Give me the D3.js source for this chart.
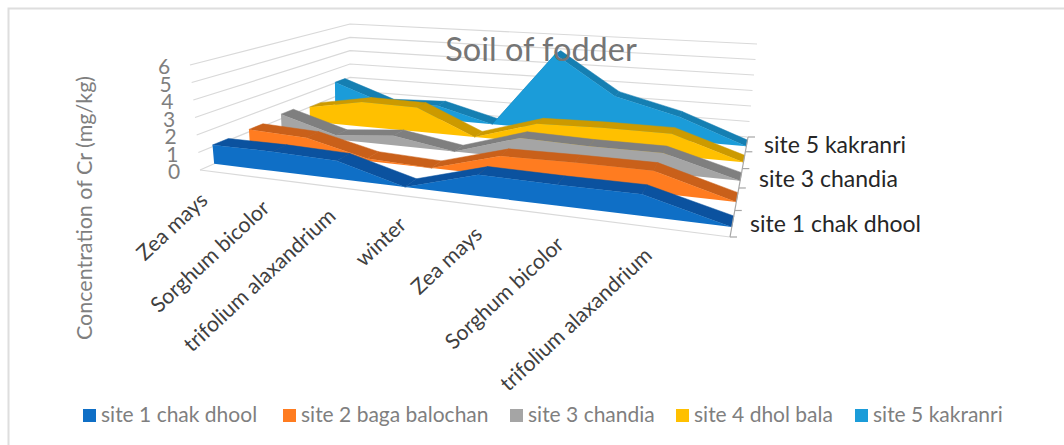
<!DOCTYPE html>
<html><head><meta charset="utf-8">
<script src="https://cdn.jsdelivr.net/npm/d3@7"></script>
<style>html,body{margin:0;padding:0;background:#fff}svg{display:block;font-family:Lato,"Open Sans",sans-serif}</style>
</head><body><svg id="c" width="1064" height="445"></svg>
<script>
const categories=["Zea mays","Sorghum bicolor","trifolium alaxandrium","winter","Zea mays","Sorghum bicolor","trifolium alaxandrium",""];
const yTicks=[0,1,2,3,4,5,6];
const depthLabels=["site 1 chak dhool","site 3 chandia","site 5 kakranri"];
const seriesNames=["site 1 chak dhool","site 2 baga balochan","site 3 chandia","site 4 dhol bala","site 5 kakranri"];
const site1=[1.1,1.1,1.0,0,1.1,1.05,1.05,0];
const site2=[1.15,1.0,0.15,0,1.1,1.15,1.15,0];
const site3=[1.3,0.27,0.6,0,1.2,1.1,1.1,0];
const site4=[1.0,1.65,1.6,0,1.2,1.3,1.3,0];
const site5=[2.05,0.8,0.95,0,5.0,2.5,1.5,0];
const allSeries=[site1,site2,site3,site4,site5];
const faceColors=["#0f6fc6","#ff7c20","#a5a5a5","#ffc000","#1b9cd9"];
const topColors=["#0b529f","#c9601a","#7f7f7f","#cc9a00","#157fb2"];

const svg=d3.select("#c");
svg.append("path").attr("fill","none").attr("stroke","#dedede").attr("stroke-width",2).attr("d","M8.5,445V8.5H1064");

function homography(p0,p1,p2,p3){
  const sx=p0[0]-p1[0]+p2[0]-p3[0],sy=p0[1]-p1[1]+p2[1]-p3[1];
  const dx1=p1[0]-p2[0],dx2=p3[0]-p2[0],dy1=p1[1]-p2[1],dy2=p3[1]-p2[1];
  const den=dx1*dy2-dx2*dy1;
  const g=(sx*dy2-dx2*sy)/den,h=(dx1*sy-sx*dy1)/den;
  const a=p1[0]-p0[0]+g*p1[0],b=p3[0]-p0[0]+h*p3[0],c=p0[0];
  const d=p1[1]-p0[1]+g*p1[1],e=p3[1]-p0[1]+h*p3[1],f=p0[1];
  return (u,v)=>{const w=g*u+h*v+1;return [(a*u+b*v+c)/w,(d*u+e*v+f)/w];};
}
const floor=homography([200,170],[730,237],[748,137],[350,104]);
const ceil=homography([190,65],[742,106],[757,44],[350,24]);
const xScale=d3.scaleLinear().domain([0,categories.length-1]).range([0,1]);
const zScale=d3.scaleLinear().domain([0,5]).range([0,1]);
const yScale=d3.scaleLinear().domain([0,6]).range([0,1]);
function P(i,z,val){
  const u=xScale(i),v=zScale(z),t=yScale(val);
  const a=floor(u,v),b=ceil(u,v);
  return [a[0]+(b[0]-a[0])*t,a[1]+(b[1]-a[1])*t];
}
const line=d3.line();
const last=categories.length-1;
const grid=svg.append("g").attr("fill","none").attr("stroke","#d9d9d9").attr("stroke-width",1.2);
yTicks.forEach(t=>{
  grid.append("path").attr("d",line([P(0,0,t),P(0,5,t),P(last,5,t)]));
});
grid.append("path").attr("d",line([P(0,0,0),P(last,0,0)]));

const bandStart=0.36,bandWidth=0.42;
d3.range(allSeries.length).reverse().forEach(s=>{
  const vals=allSeries[s];
  const g=svg.append("g");
  const zf=s+bandStart,zb=s+bandStart+bandWidth;
  for(let i=0;i<last;i++){
    g.append("path").attr("fill",topColors[s]).attr("stroke",topColors[s]).attr("stroke-width",.5)
     .attr("d",line([P(i,zf,vals[i]),P(i+1,zf,vals[i+1]),P(i+1,zb,vals[i+1]),P(i,zb,vals[i])])+"Z");
  }
  const top=vals.map((v,i)=>P(i,zf,v));
  const bottom=vals.map((v,i)=>P(i,zf,0)).reverse();
  g.append("path").attr("fill",faceColors[s]).attr("d",line(top.concat(bottom))+"Z");
});

svg.append("path").attr("fill","none").attr("stroke","#a6a6a6").attr("stroke-width",1.2)
  .attr("d",line([P(last,0,0),P(last,5,0)]));
d3.range(6).forEach(z=>{
  const p=P(last,z,0);
  svg.append("path").attr("stroke","#a6a6a6").attr("stroke-width",1.2).attr("d",line([p,[p[0]+7,p[1]]]));
});
[[750,232],[759,187],[764,153]].forEach((p,i)=>{
  svg.append("text").attr("x",p[0]).attr("y",p[1]).attr("font-size",23).attr("fill","#262626").text(depthLabels[i]);
});

yTicks.forEach(t=>{
  const p=P(0,0,t);
  svg.append("text").attr("x",p[0]-26).attr("y",p[1]+9).attr("text-anchor","middle").attr("font-size",21).attr("fill","#7f7f7f").text(t);
});
categories.forEach((c,i)=>{
  if(!c)return;
  const p=P(i,0,0);
  svg.append("text").attr("transform",`translate(${p[0]+9+i*1.4},${p[1]+32}) rotate(-43)`).attr("text-anchor","end")
     .attr("font-size",21.3).attr("fill","#404040").text(c);
});
svg.append("text").attr("transform","translate(92,208) rotate(-90)").attr("text-anchor","middle").attr("font-size",21.5).attr("fill","#7f7f7f").text("Concentration of Cr (mg/kg)");
svg.append("text").attr("x",541).attr("y",61).attr("text-anchor","middle").attr("font-size",32.5).attr("fill","#757575").text("Soil of fodder");
const legendX=[83,283,510,676,855];
seriesNames.forEach((n,i)=>{
  svg.append("rect").attr("x",legendX[i]).attr("y",409).attr("width",13).attr("height",13).attr("fill",faceColors[i]);
  svg.append("text").attr("x",legendX[i]+18).attr("y",422).attr("font-size",21).attr("fill","#7f7f7f").text(n);
});
</script></body></html>
